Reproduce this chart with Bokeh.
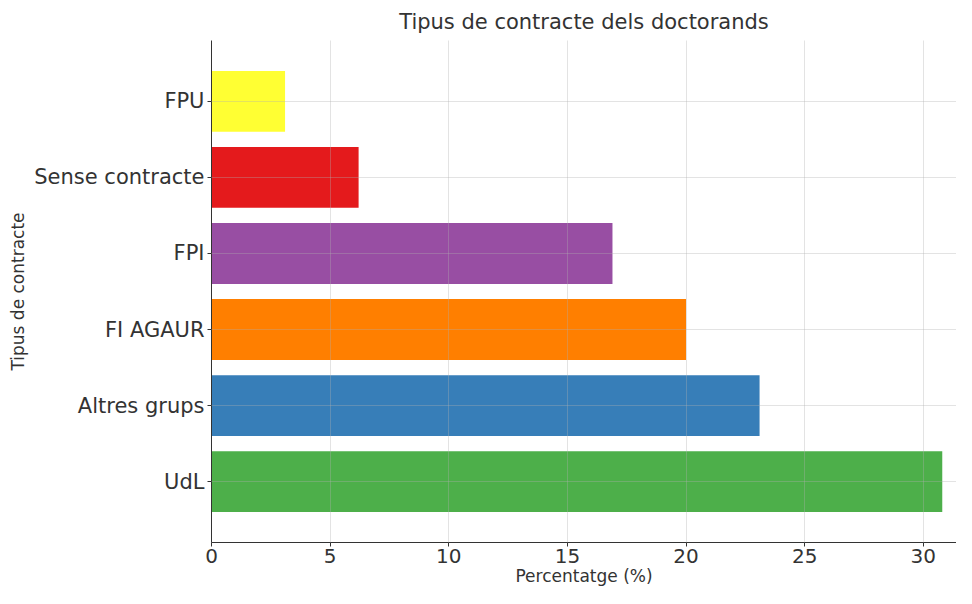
from bokeh.plotting import figure
from bokeh.models import ColumnDataSource, Range1d, FixedTicker
from bokeh.embed import file_html
from bokeh.resources import INLINE

categories = ["UdL", "Altres grups", "FI AGAUR", "FPI", "Sense contracte", "FPU"]
values = [30.8, 23.1, 20.0, 16.9, 6.2, 3.1]
colors = ["#4daf4a", "#377eb8", "#ff7f00", "#984ea3", "#e41a1c", "#ffff33"]
x_ticks = [0, 5, 10, 15, 20, 25, 30]

FONT = "DejaVu Sans"

src = ColumnDataSource(dict(cat=categories, val=values, col=colors))

p = figure(width=956, height=588, y_range=categories, x_range=Range1d(0, 31.4),
           output_backend="svg", toolbar_location=None,
           title="Tipus de contracte dels doctorands",
           min_border_left=211, min_border_right=0, min_border_top=40, min_border_bottom=0)
p.y_range.range_padding = 0.1
p.y_range.factor_padding = 0.0

p.hbar(y="cat", right="val", left=0, height=0.8, fill_color="col", line_color=None, source=src)

p.title.align = "center"
p.title.text_font = FONT
p.title.text_font_size = "21px"
p.title.text_font_style = "normal"
p.title.text_color = "#333333"
p.title.standoff = 14

p.xaxis.ticker = FixedTicker(ticks=x_ticks)
p.xaxis.axis_label = "Percentatge (%)"
p.yaxis.axis_label = "Tipus de contracte"
for ax in (p.xaxis[0], p.yaxis[0]):
    ax.axis_label_text_font = FONT
    ax.axis_label_text_font_size = "17px"
    ax.axis_label_text_font_style = "normal"
    ax.axis_label_text_color = "#333333"
    ax.major_label_text_font = FONT
    ax.major_label_text_font_size = "20px"
    ax.major_label_text_color = "#333333"
    ax.axis_line_color = "#333333"
    ax.major_tick_line_color = "#333333"
    ax.major_tick_out = 4
    ax.major_tick_in = 0
    ax.minor_tick_line_color = None
    ax.major_label_standoff = 3
p.yaxis.major_label_text_font_size = "21px"
p.xaxis.major_label_standoff = 2
p.xaxis.axis_label_standoff = 0
p.yaxis.axis_label_standoff = 3

p.outline_line_color = None
for g in (p.xgrid[0], p.ygrid[0]):
    g.grid_line_color = "#b0b0b0"
    g.grid_line_alpha = 0.35
    g.level = "overlay"

with open("out.html", "w") as f:
    f.write(file_html(p, INLINE))
